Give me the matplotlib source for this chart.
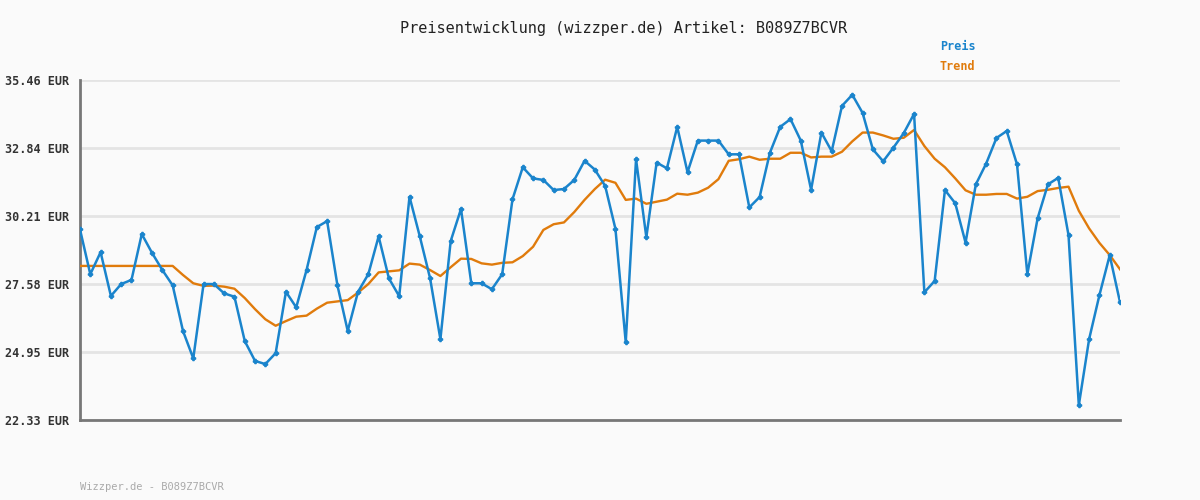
import numpy as np
import matplotlib
matplotlib.use("Agg")
import matplotlib.pyplot as plt

# price values (102 points)
preis = [29.69, 27.96, 28.81, 27.12, 27.58, 27.74, 29.51, 28.78, 28.12, 27.53,
         25.77, 24.71, 27.58, 27.58, 27.22, 27.09, 25.38, 24.61, 24.49, 24.91,
         27.28, 26.68, 28.12, 29.78, 30.01, 27.53, 25.77, 27.28, 27.96, 29.42,
         27.80, 27.11, 30.95, 29.42, 27.80, 25.45, 29.24, 30.48, 27.61, 27.61,
         27.38, 27.96, 30.85, 32.09, 31.66, 31.60, 31.21, 31.25, 31.60, 32.34,
         32.00, 31.37, 29.71, 25.33, 32.40, 29.39, 32.27, 32.05, 33.65, 31.90,
         33.12, 33.12, 33.12, 32.59, 32.59, 30.54, 30.94, 32.65, 33.65, 33.95,
         33.12, 31.22, 33.43, 32.71, 34.46, 34.89, 34.19, 32.78, 32.32, 32.85,
         33.41, 34.15, 27.26, 27.70, 31.21, 30.70, 29.18, 31.43, 32.23, 33.22,
         33.49, 32.20, 27.96, 30.12, 31.43, 31.68, 29.47, 22.90, 25.45, 27.15,
         28.69, 26.88]

trend = [28.28, 28.28, 28.28, 28.28, 28.28, 28.28, 28.28, 28.28, 28.28, 28.28,
         27.93, 27.61, 27.51, 27.52, 27.48, 27.40, 27.04, 26.61, 26.22, 25.97,
         26.15, 26.32, 26.36, 26.63, 26.86, 26.91, 26.96, 27.25, 27.58, 28.03,
         28.07, 28.11, 28.37, 28.33, 28.12, 27.89, 28.23, 28.56, 28.55, 28.38,
         28.33, 28.40, 28.42, 28.66, 29.02, 29.67, 29.89, 29.96, 30.36, 30.83,
         31.25, 31.61, 31.49, 30.83, 30.88, 30.68, 30.76, 30.84, 31.07, 31.03,
         31.11, 31.30, 31.63, 32.34, 32.40, 32.50, 32.38, 32.42, 32.42, 32.65,
         32.65, 32.47, 32.50, 32.50, 32.69, 33.09, 33.43, 33.43, 33.32, 33.19,
         33.23, 33.53, 32.91, 32.42, 32.09, 31.66, 31.20, 31.03, 31.03, 31.06,
         31.06, 30.88, 30.95, 31.17, 31.22, 31.29, 31.34, 30.41, 29.73, 29.17,
         28.70, 28.15]

ytick_vals = [22.33, 24.956, 27.582, 30.208, 32.834, 35.46]
ytick_labels = ["22.33 EUR", "24.95 EUR", "27.58 EUR", "30.21 EUR", "32.84 EUR", "35.46 EUR"]

blue = "#1a84cc"
orange = "#e07b0c"
mono = "DejaVu Sans Mono"

fig = plt.figure(figsize=(12, 5), dpi=100, facecolor="#fafafa")
ax = fig.add_axes([80/1200, 80/500, 1040/1200, 340/500], facecolor="#fafafa")

x = np.arange(len(preis))
ax.plot(x, trend, color=orange, lw=1.7, zorder=3)
ax.plot(x, preis, color=blue, lw=1.8, marker="P", markersize=3, zorder=4)

ax.set_xlim(0, len(preis) - 1)
ax.set_ylim(ytick_vals[0], ytick_vals[-1])
ax.set_yticks(ytick_vals)
ax.set_yticklabels(ytick_labels, family=mono, fontsize=8.5, fontweight="bold", color="#333333")
ax.set_xticks([])
ax.tick_params(axis="y", length=0, pad=8)
ax.grid(axis="y", color="#e4e4e4", lw=2, zorder=0)

for s in ["top", "right"]:
    ax.spines[s].set_visible(False)
for s in ["left", "bottom"]:
    ax.spines[s].set_color("#777777")
    ax.spines[s].set_linewidth(2)

fig.text(624/1200, 1 - 28/500, "Preisentwicklung (wizzper.de) Artikel: B089Z7BCVR",
         family=mono, fontsize=11, color="#222222", ha="center", va="center")
fig.text(940/1200, 1 - 46/500, "Preis", family=mono, fontsize=8.5, fontweight="bold",
         color=blue, ha="left", va="center")
fig.text(940/1200, 1 - 67/500, "Trend", family=mono, fontsize=8.5, fontweight="bold",
         color=orange, ha="left", va="center")
fig.text(80/1200, 1 - 487/500, "Wizzper.de - B089Z7BCVR", family=mono, fontsize=7.5,
         color="#aaaaaa", ha="left", va="center")

fig.savefig("out.png", dpi=100, facecolor=fig.get_facecolor())
